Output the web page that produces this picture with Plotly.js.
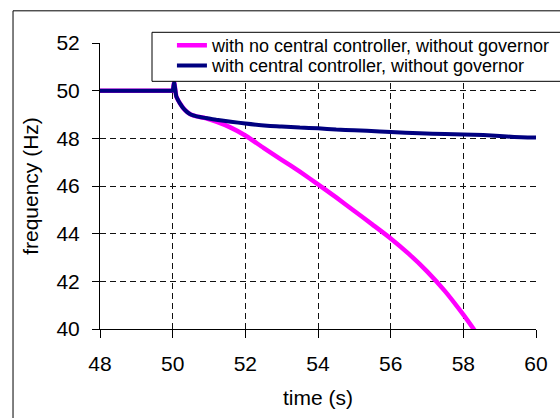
<!DOCTYPE html>
<html>
<head>
<meta charset="utf-8">
<script src="https://cdn.plot.ly/plotly-3.0.1.min.js"></script>
<style>html,body{margin:0;padding:0;background:#fff;}#chart{width:560px;height:418px;}</style>
</head>
<body>
<div id="chart"></div>
<script>
// Series: with no central controller, without governor (magenta)
var timeNoCtrl = [48, 49, 49.9, 49.97, 50.0, 50.04, 50.1, 50.15, 50.2, 50.3, 50.4, 50.5, 50.66, 50.9, 51.2, 51.6, 52.0, 52.5, 53.0, 53.5, 54.0, 54.5, 55.0, 55.5, 56.0, 56.5, 57.0, 57.5, 58.0, 58.4];
var freqNoCtrl = [50, 50, 50, 50, 50, 50.35, 49.76, 49.6, 49.47, 49.25, 49.1, 49.0, 48.92, 48.85, 48.7, 48.45, 48.12, 47.6, 47.1, 46.6, 46.07, 45.52, 44.95, 44.38, 43.8, 43.15, 42.42, 41.58, 40.6, 39.75];
// Series: with central controller, without governor (navy)
var timeCtrl = [48, 49, 49.9, 49.97, 50.0, 50.04, 50.1, 50.15, 50.2, 50.3, 50.4, 50.5, 50.66, 51.0, 51.2, 51.6, 52.0, 52.6, 53.0, 53.5, 54.0, 54.5, 55.0, 55.7, 56.0, 56.8, 57.5, 58.0, 58.55, 59.0, 59.4, 60];
var freqCtrl = [50, 50, 50, 50, 50, 50.35, 49.76, 49.6, 49.47, 49.25, 49.1, 49.0, 48.92, 48.83, 48.78, 48.7, 48.62, 48.53, 48.5, 48.45, 48.42, 48.37, 48.34, 48.29, 48.27, 48.21, 48.18, 48.16, 48.14, 48.1, 48.06, 48.03];
var seriesNames = ["with no central controller, without governor", "with central controller, without governor"];
var xTicks = [48, 50, 52, 54, 56, 58, 60];
var yTicks = [40, 42, 44, 46, 48, 50, 52];

var FONT = "Liberation Sans, Arial, sans-serif";
var traces = [
  {x: timeNoCtrl, y: freqNoCtrl, name: seriesNames[0], mode: "lines", line: {color: "#FF00FF", width: 4.5, shape: "spline", smoothing: 0.5}, legend: "legend"},
  {x: timeCtrl, y: freqCtrl, name: seriesNames[1], mode: "lines", line: {color: "#000080", width: 4, shape: "spline", smoothing: 0.5}, legend: "legend2"}
];
var legendCommon = {xanchor: "left", yanchor: "middle", bgcolor: "rgba(0,0,0,0)", borderwidth: 0, font: {size: 18, family: FONT}};
var layout = {
  width: 560, height: 418,
  margin: {l: 100, r: 24, t: 43, b: 89, autoexpand: false},
  paper_bgcolor: "#fff", plot_bgcolor: "#fff",
  font: {family: FONT, color: "#000"},
  showlegend: true,
  legend: Object.assign({x: 0.165, y: 0.991}, legendCommon),
  legend2: Object.assign({x: 0.165, y: 0.9206}, legendCommon),
  xaxis: {
    range: [48, 60], tickvals: xTicks, ticktext: xTicks.map(String),
    showline: true, linecolor: "#000", linewidth: 1,
    ticks: "outside", ticklen: 8, tickcolor: "#000", ticklabelstandoff: 8,
    showgrid: true, gridcolor: "#111", gridwidth: 1, griddash: "6px,4px",
    zeroline: false, tickfont: {size: 21},
    title: {text: "time (s)", font: {size: 21}, standoff: 16}
  },
  yaxis: {
    range: [40, 52], tickvals: yTicks, ticktext: yTicks.map(String),
    showline: true, linecolor: "#000", linewidth: 1,
    ticks: "outside", ticklen: 7, tickcolor: "#000", ticklabelstandoff: 8,
    showgrid: true, gridcolor: "#111", gridwidth: 1, griddash: "6px,4px",
    zeroline: false, tickfont: {size: 21},
    title: {text: "frequency (Hz)", font: {size: 21}, standoff: 12}
  },
  shapes: [
    {type: "rect", xref: "paper", yref: "paper", x0: -0.1995, x1: 1.06, y0: -0.4, y1: 1.1125, line: {color: "#000", width: 1}, layer: "below"},
    {type: "rect", xref: "paper", yref: "paper", x0: 0.1193, x1: 1.06, y0: 0.866, y1: 1.0374, fillcolor: "#fff", line: {color: "#000", width: 1}, layer: "above"}
  ]
};
Plotly.newPlot("chart", traces, layout, {displayModeBar: false, staticPlot: true});
</script>
</body>
</html>
